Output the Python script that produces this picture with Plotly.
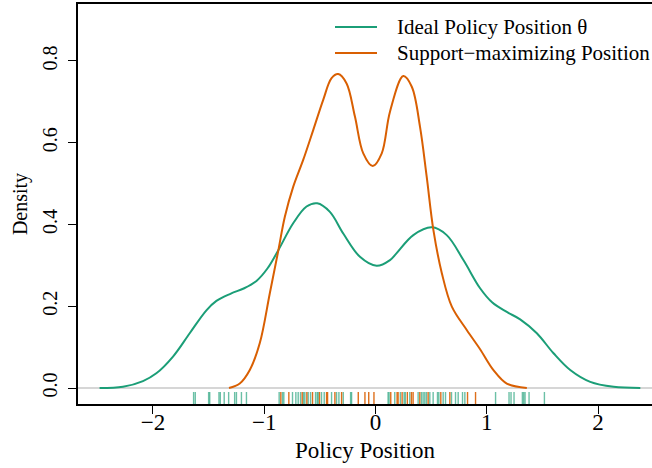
import plotly.graph_objects as go

# ---- data ----
ideal_x = [-2.48, -2.27, -2.09, -1.97, -1.82, -1.67, -1.52, -1.43, -1.30, -1.18, -1.07,
           -0.97, -0.876, -0.74, -0.62, -0.524, -0.41, -0.29, -0.14, 0.01, 0.13,
           0.19, 0.34, 0.506, 0.64, 0.79, 0.94, 1.05, 1.18, 1.30, 1.45, 1.60,
           1.75, 1.93, 2.14, 2.38]
ideal_y = [0.0, 0.003, 0.017, 0.036, 0.077, 0.134, 0.190, 0.213, 0.231, 0.244, 0.262,
           0.293, 0.336, 0.403, 0.444, 0.452, 0.431, 0.378, 0.321, 0.299, 0.313,
           0.330, 0.374, 0.393, 0.374, 0.313, 0.244, 0.209, 0.186, 0.168, 0.134, 0.085,
           0.044, 0.015, 0.003, 0.0]

support_x = [-1.317, -1.22, -1.13, -1.04, -0.95, -0.876, -0.815, -0.74, -0.65, -0.56,
             -0.47, -0.395, -0.335, -0.26, -0.185, -0.11, -0.025, 0.056, 0.13, 0.25,
             0.326, 0.40, 0.46, 0.52, 0.596, 0.686, 0.82, 0.94, 1.06, 1.18, 1.36]
support_y = [0.0, 0.011, 0.044, 0.11, 0.232, 0.333, 0.419, 0.492, 0.558, 0.631,
             0.705, 0.758, 0.768, 0.745, 0.664, 0.574, 0.543, 0.574, 0.676, 0.763,
             0.737, 0.639, 0.517, 0.387, 0.281, 0.199, 0.142, 0.095, 0.044, 0.011, 0.0]

rug_ideal = [-1.635, -1.62, -1.50, -1.49, -1.407, -1.395, -1.36, -1.32, -1.266, -1.25,
             -1.205, -1.16, -0.866, -0.836, -0.824, -0.746, -0.716, -0.695, -0.674,
             -0.647, -0.635, -0.605, -0.584, -0.539, -0.524, -0.515, -0.485, -0.461,
             -0.395, -0.35, -0.329, -0.29, -0.224, -0.215, 0.113, 0.122, 0.173, 0.223,
             0.257, 0.268, 0.308, 0.383, 0.413, 0.428, 0.443, 0.458, 0.488, 0.518,
             0.557, 0.569, 0.608, 0.629, 0.683, 0.719, 0.743, 0.782, 0.803, 1.079,
             1.2, 1.218, 1.245, 1.32, 1.332, 1.344, 1.38, 1.518]
rug_support = [-0.851, -0.779, -0.659, -0.617, -0.566, -0.503, -0.44, -0.431, -0.365,
               -0.305, -0.155, -0.095, -0.061, -0.014, 0.137, 0.194, 0.203, 0.239,
               0.286, 0.323, 0.338, 0.398, 0.473, 0.587, 0.668, 0.827, 0.899]

x_ticks = [-2, -1, 0, 1, 2]
y_ticks = [0.0, 0.2, 0.4, 0.6, 0.8]
y_ticktext = ["0.0", "0.2", "0.4", "0.6", "0.8"]
series_names = ["Ideal Policy Position θ", "Support−maximizing Position"]
x_title = "Policy Position"
y_title = "Density"

# ---- style ----
GREEN = "#1B9E77"
ORANGE = "#D95F02"
FONT = "Liberation Serif"
X_RANGE = [-2.674, 2.485]
Y_RANGE = [-0.0391, 0.9394]
rug_lo = Y_RANGE[0]
rug_hi = Y_RANGE[0] + 0.03 * (Y_RANGE[1] - Y_RANGE[0])


def rug_xy(vals):
    xs, ys = [], []
    for v in vals:
        xs += [v, v, None]
        ys += [rug_lo, rug_hi, None]
    return xs, ys


fig = go.Figure()
fig.add_trace(go.Scatter(x=ideal_x, y=ideal_y, mode="lines", name=series_names[0],
                         line=dict(color=GREEN, width=2, shape="spline", smoothing=1.0),
                         showlegend=False, hoverinfo="skip"))
fig.add_trace(go.Scatter(x=support_x, y=support_y, mode="lines", name=series_names[1],
                         line=dict(color=ORANGE, width=2, shape="spline", smoothing=1.0),
                         showlegend=False, hoverinfo="skip"))
rx, ry = rug_xy(rug_ideal)
fig.add_trace(go.Scatter(x=rx, y=ry, mode="lines", line=dict(color="rgba(27,158,119,0.65)", width=1.4),
                         showlegend=False, hoverinfo="skip", connectgaps=False))
rx, ry = rug_xy(rug_support)
fig.add_trace(go.Scatter(x=rx, y=ry, mode="lines", line=dict(color="rgba(217,95,2,0.9)", width=1.4),
                         showlegend=False, hoverinfo="skip", connectgaps=False))

# manual legend (R style, no box)
L, T, W, H = 78, 4, 574, 400


def px_to_paper(px, py):
    return (px - L) / W, (T + H - py) / H


for i, (name, col) in enumerate(zip(series_names, [GREEN, ORANGE])):
    py = 27 + 26 * i
    x0, yy = px_to_paper(335, py)
    x1, _ = px_to_paper(377, py)
    fig.add_shape(type="line", xref="paper", yref="paper", x0=x0, x1=x1, y0=yy, y1=yy,
                  line=dict(color=col, width=2))
    tx, _ = px_to_paper(395, py)
    fig.add_annotation(xref="paper", yref="paper", x=tx, y=yy, text=name, showarrow=False,
                       xanchor="left", yanchor="middle",
                       font=dict(family=FONT, size=21, color="black"))

fig.update_layout(
    width=652, height=468,
    margin=dict(l=78, r=0, t=4, b=64, pad=0),
    paper_bgcolor="white", plot_bgcolor="white",
    font=dict(family=FONT, color="black"),
    xaxis=dict(range=X_RANGE, tickvals=x_ticks, ticks="outside", ticklen=8, tickwidth=1,
               tickcolor="black", showline=True, linecolor="black", linewidth=1.5,
               mirror=True, showgrid=False, zeroline=False, ticklabelstandoff=-11,
               tickfont=dict(family=FONT, size=23, color="black"),
               title=dict(text=x_title, font=dict(family=FONT, size=23, color="black"), standoff=8)),
    yaxis=dict(range=Y_RANGE, tickvals=y_ticks, ticktext=y_ticktext, tickangle=-90,
               ticks="outside", ticklen=8, tickwidth=1, tickcolor="black",
               showline=True, linecolor="black", linewidth=1.5, mirror=False,
               showgrid=False, zeroline=True, zerolinecolor="#d6d6d6", zerolinewidth=2,
               ticklabelstandoff=3,
               tickfont=dict(family=FONT, size=20, color="black"),
               title=dict(text=y_title, font=dict(family=FONT, size=20, color="black"), standoff=6)),
)

fig.write_html("out.html")
